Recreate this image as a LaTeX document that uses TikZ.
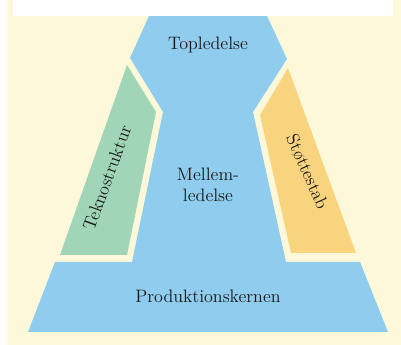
\documentclass[tikz,border=0pt]{standalone}
\usepackage{xcolor}
\usepackage{tikz}
\usetikzlibrary{positioning}
\definecolor{creme}{RGB}{254,248,218}
\definecolor{hvidblaa}{RGB}{143,204,238}
\definecolor{teknogron}{RGB}{160,213,183}
\definecolor{stabgul}{RGB}{249,212,126}

\begin{document}
\begin{tikzpicture}
  [ x=0.75pt, y=-0.75pt,
    lbl/.style={font=\fontsize{13.5}{15.5}\selectfont, text=black!90,
      align=center, inner sep=0pt}
  ]
  \useasboundingbox (0,0) rectangle (401,345);
  \fill [creme] (7,0) rectangle (401,345);

  % kernen, mellemledelse og topledelse i et stykke
  \fill [hvidblaa] (149,16) -- (130,58) -- (163,112) -- (132,262) -- (55,262)
    -- (28,332) -- (388,332) -- (360,262) -- (286,262) -- (253,112)
    -- (287,59) -- (267,16) -- cycle;
  \fill [teknogron] (127,65) -- (156,112) -- (127,255) -- (60,255) -- cycle;
  \fill [stabgul] (288,68) -- (356,253) -- (291,253) -- (260,115) -- cycle;

  % hvid billedtekst-boks foroven
  \fill [white] (13,0) rectangle (393,16);

  \node (top)    at (208,45)  [lbl] {Topledelse};
  \node (mellem) at (208,185) [lbl] {Mellem-\\ledelse};
  \node (kerne)  at (208,296) [lbl] {Produktionskernen};
  \node (tekno)  at (107,178) [lbl, rotate=70] {Teknostruktur};
  \node (stab)   at (307,172) [lbl, rotate=-66] {Støttestab};
\end{tikzpicture}
\end{document}
